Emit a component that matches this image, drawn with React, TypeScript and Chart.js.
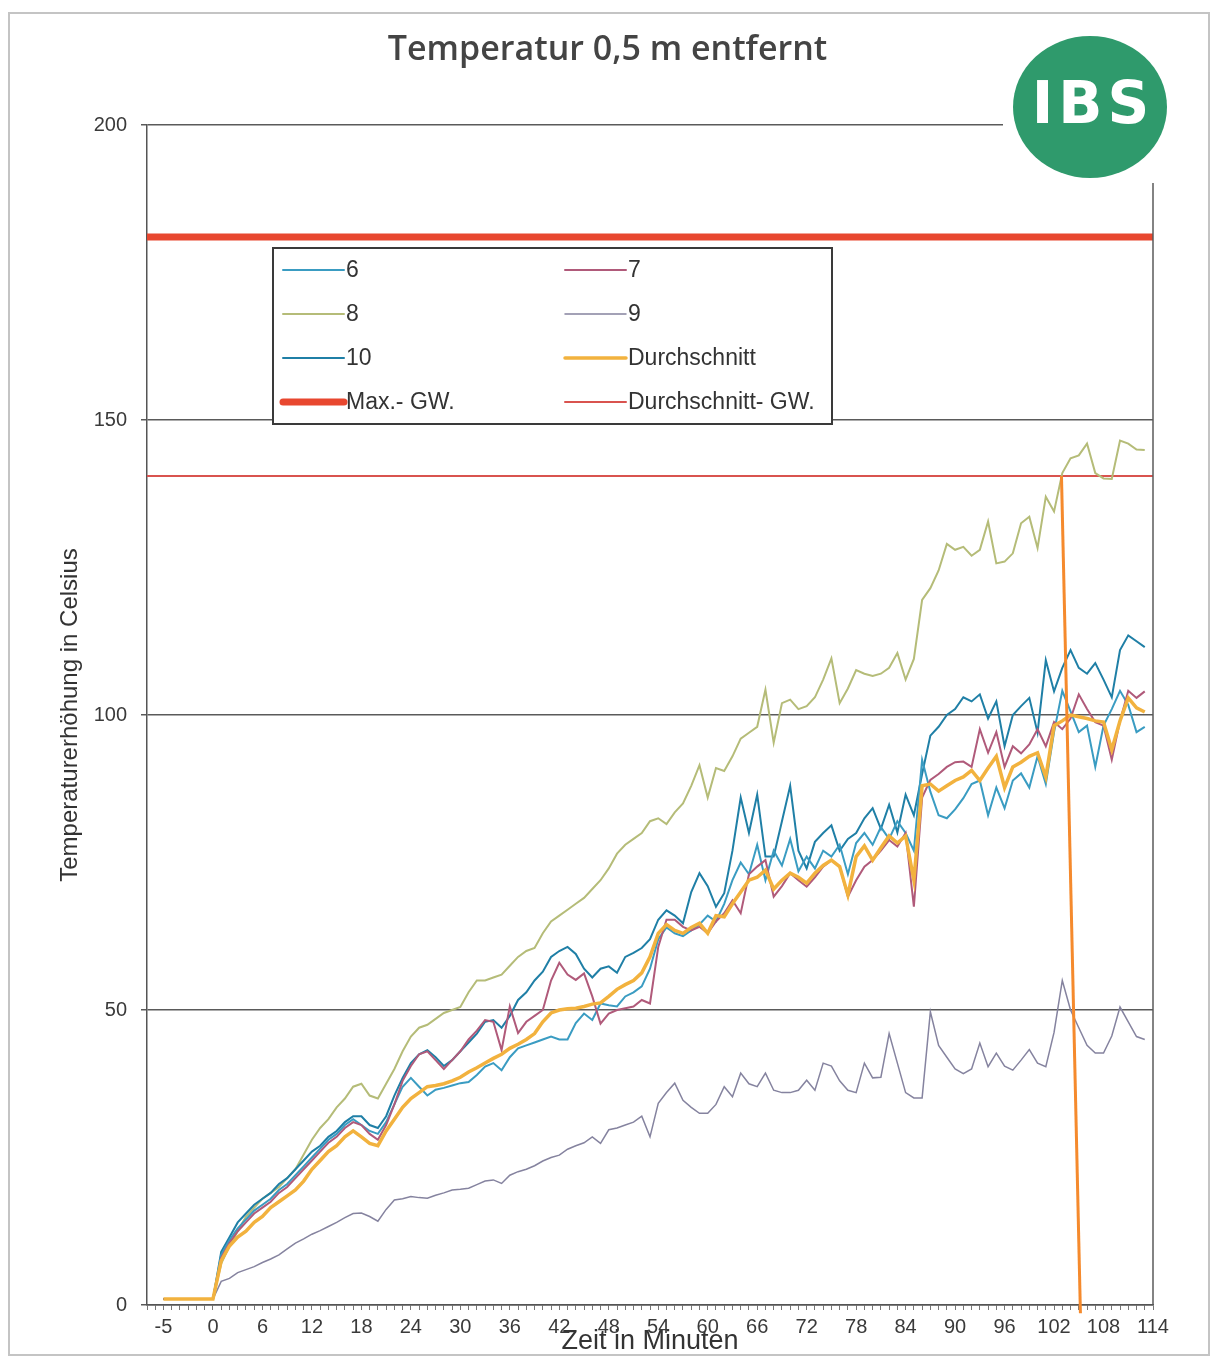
import React, { useEffect, useRef } from 'react';
import { Chart, registerables } from 'chart.js';

Chart.register(...registerables);

// x positions (minutes); the first point sits at the "-5" category position
const minutes = [
  -6,
  0, 1, 2, 3, 4, 5, 6, 7, 8, 9,
  10, 11, 12, 13, 14, 15, 16, 17, 18, 19,
  20, 21, 22, 23, 24, 25, 26, 27, 28, 29,
  30, 31, 32, 33, 34, 35, 36, 37, 38, 39,
  40, 41, 42, 43, 44, 45, 46, 47, 48, 49,
  50, 51, 52, 53, 54, 55, 56, 57, 58, 59,
  60, 61, 62, 63, 64, 65, 66, 67, 68, 69,
  70, 71, 72, 73, 74, 75, 76, 77, 78, 79,
  80, 81, 82, 83, 84, 85, 86, 87, 88, 89,
  90, 91, 92, 93, 94, 95, 96, 97, 98, 99,
  100, 101, 102, 103, 104, 105, 106, 107, 108, 109,
  110, 111, 112, 113,
];

const series6 = [
  1,
  1, 8.5, 11, 13, 14.5, 16, 17, 18, 19.5, 20.5,
  22, 23.5, 25, 26.5, 28, 29, 30.5, 31.5, 30.5, 29.5,
  29, 31, 34, 37, 38.5, 37, 35.5, 36.5, 36.8, 37.2,
  37.6, 37.8, 39, 40.4, 41, 39.8, 42, 43.5, 44, 44.5,
  45, 45.5, 45, 45, 47.8, 49.4, 48.3, 51.1, 50.8, 50.6,
  52.3, 53, 54, 57, 62, 64, 63, 62.5, 63.5, 64.5,
  66, 65, 68, 72, 75, 73, 78, 72, 77, 74.5,
  79, 73.5, 76, 74, 77, 76, 78, 73, 78.3, 80,
  78, 81, 79, 82, 80, 77, 92.4, 87, 83, 82.5,
  84, 85.9, 88.3, 88.9, 83, 87.7, 84.2, 88.9, 90.1, 87.7,
  93, 88.3, 97.1, 104.1, 100.6, 97.1, 98.2, 91.2, 98.2, 101,
  104.1, 101.7, 97.1, 98,
];

const series7 = [
  1,
  1, 8, 10.5, 12.5, 14, 15.5, 16.5, 17.5, 19, 20,
  21.5, 23, 24.5, 26, 27.5, 28.5, 30, 31, 30.5, 29,
  28, 30.5, 34, 38, 40.5, 42.5, 43, 41.5, 40, 41.5,
  43, 45, 46.5, 48.3, 48, 43.2, 50.6, 46.1, 48, 49,
  50, 55, 58, 56, 55.1, 56.2, 52.3, 47.7, 49.4, 50,
  50.3, 50.6, 51.7, 51.1, 60.7, 65.3, 65.3, 64.1, 63.5, 64.1,
  63, 65, 66.4, 68.6, 66.4, 73, 74.3, 75.4, 69.2, 71,
  73.2, 72, 70.9, 72.5, 74.3, 75.4, 74.3, 69.2, 72, 74.3,
  75.4, 77, 78.8, 77.7, 80, 67.5, 86, 89, 90, 91.2,
  92, 92.1, 91.2, 97.6, 93.6, 97.1, 91.2, 94.7, 93.5, 95,
  97.6, 94.7, 98.8, 97.6, 99.4, 103.5, 101, 98.8, 98.2, 92.4,
  99, 104.1, 102.9, 104,
];

const series8 = [
  1,
  1, 7, 10, 12.5, 15, 16.5, 18, 19, 20, 21.5,
  23, 25.5, 28, 30, 31.5, 33.5, 35, 37, 37.5, 35.5,
  35, 37.5, 40, 43, 45.5, 47, 47.5, 48.5, 49.5, 50,
  50.5, 53, 55, 55, 55.5, 56, 57.5, 59, 60, 60.5,
  63, 65, 66, 67, 68, 69, 70.5, 72, 74, 76.5,
  78, 79, 80, 82, 82.5, 81.5, 83.5, 85, 88, 91.5,
  86, 91, 90.5, 93, 96, 97, 98, 104.3, 95.3, 102,
  102.6, 101, 101.5, 103, 106, 109.6, 102, 104.5, 107.6, 107,
  106.6, 107, 108, 110.5, 106, 109.5, 119.5, 121.5, 124.5, 129,
  128, 128.5, 127, 128, 132.8, 125.7, 126, 127.4, 132.5, 133.6,
  128.3, 137, 134.5, 141, 143.5, 144, 146, 141, 140.1, 140,
  146.5, 146, 145, 144.9,
];

const series9 = [
  1,
  1, 4, 4.5, 5.5, 6, 6.5, 7.2, 7.8, 8.5, 9.5,
  10.5, 11.2, 12, 12.6, 13.3, 14, 14.8, 15.5, 15.6, 15,
  14.2, 16.2, 17.8, 18, 18.4, 18.2, 18.1, 18.6, 19, 19.5,
  19.6, 19.8, 20.4, 21, 21.2, 20.6, 22, 22.6, 23, 23.6,
  24.4, 25, 25.4, 26.4, 27, 27.5, 28.5, 27.4, 29.7, 30,
  30.5, 31, 32, 28.5, 34.2, 36, 37.6, 34.7, 33.5, 32.5,
  32.5, 34, 37, 35.3, 39.3, 37.5, 37, 39.3, 36.4, 36,
  36, 36.4, 38.1, 36.4, 41, 40.5, 38, 36.4, 36, 41,
  38.5, 38.6, 46, 41, 36, 35.1, 35.1, 49.7, 44, 42,
  40, 39.2, 40, 44.4, 40.4, 42.7, 40.5, 39.8, 41.5, 43.3,
  41, 40.4, 46.2, 55, 50, 47, 44, 42.7, 42.7, 45.6,
  50.5, 48, 45.5, 45,
];

const series10 = [
  1,
  1, 9, 11.5, 14, 15.5, 17, 18, 19, 20.5, 21.5,
  23, 24.5, 26, 27, 28.5, 29.5, 31, 32, 32, 30.5,
  30, 32, 35.5, 38.5, 41, 42.5, 43.2, 42, 40.5, 41.5,
  43, 44.5, 46, 48, 48.3, 47, 49, 51.7, 53, 55,
  56.5, 59, 60, 60.7, 59.5, 57, 55.5, 57, 57.4, 56.3,
  59, 59.7, 60.5, 62, 65.3, 66.9, 66, 64.7, 70, 73.2,
  71, 67.5, 69.8, 77, 86, 80, 86.5, 76, 76, 82,
  88, 77, 74, 78.5, 80, 81.3, 77, 79, 80, 82.5,
  84.2, 80.7, 84.8, 80.1, 86.5, 83, 90, 96.5, 98, 100,
  101, 103, 102.3, 103.5, 99.4, 102.3, 94.7, 100, 101.5, 102.9,
  97, 109.3, 104, 108, 111, 108, 107, 108.8, 106, 103,
  111, 113.5, 112.5, 111.5,
];

const seriesAvg = [
  1,
  1, 7.5, 10, 11.5, 12.5, 14, 15, 16.5, 17.5, 18.5,
  19.5, 21, 23, 24.5, 26, 27, 28.5, 29.5, 28.5, 27.4,
  27, 29.5, 31.5, 33.5, 35, 36, 37, 37.2, 37.5, 38,
  38.6, 39.5, 40.2, 41, 41.8, 42.5, 43.5, 44.2, 45, 46,
  48, 49.5, 50, 50.2, 50.3, 50.6, 51, 51.2, 52.3, 53.5,
  54.3, 55, 56.3, 59, 63, 64.5, 63.5, 63, 64, 64.7,
  63, 66, 65.8, 68, 70, 72, 72.5, 73.7, 70.5, 72,
  73.2, 72.5, 71.5, 73.2, 74.5, 75.4, 74.3, 69.5, 76, 77.8,
  75.4, 77.5, 79.5, 78.3, 79.5, 72, 88, 88.3, 87.1, 88,
  88.9, 89.5, 90.6, 88.9, 91, 93, 87.7, 91.2, 92, 93,
  93.6, 89.5, 98.2, 99, 100, 99.7, 99.4, 99, 98.8, 94.1,
  99, 102.9, 101.2, 100.5,
];

// limit lines (Grenzwerte) span the whole axis
const limitX = [-8, 114];
const maxGW = [181, 181];
const avgGW = [140.5, 140.5];

// hand-drawn orange marker line
const markerX = [102.9, 105.2];
const markerY = [140.5, -1.4];

const xTickPositions = [-6, 0, 6, 12, 18, 24, 30, 36, 42, 48, 54, 60, 66, 72, 78, 84, 90, 96, 102, 108, 114];
const xTickLabels = ['-5', '0', '6', '12', '18', '24', '30', '36', '42', '48', '54', '60', '66', '72', '78', '84', '90', '96', '102', '108', '114'];
const yTickValues = [0, 50, 100, 150, 200];

const FONT = '"Liberation Sans", Arial, sans-serif';

const decorPlugin = {
  id: 'decor',
  afterDraw(chart: any) {
    const { ctx, chartArea: ca } = chart;
    ctx.save();
    // right border of plot
    ctx.strokeStyle = '#5a5a5a';
    ctx.lineWidth = 1.5;
    ctx.beginPath();
    ctx.moveTo(ca.right, ca.top);
    ctx.lineTo(ca.right, ca.bottom);
    ctx.stroke();

    // legend box
    const bx = ca.left + 126;
    const by = ca.top + 123;
    const bw = 559;
    const bh = 176;
    ctx.fillStyle = '#ffffff';
    ctx.fillRect(bx, by, bw, bh);
    ctx.strokeStyle = '#3a3a3a';
    ctx.lineWidth = 2;
    ctx.strokeRect(bx, by, bw, bh);
    const items = chart.data.datasets.filter((d: any) => !d.isMarker);
    items.forEach((d: any, i: number) => {
      const col = i % 2;
      const row = Math.floor(i / 2);
      const lx = bx + (col === 0 ? 10 : 292);
      const ly = by + 22 + row * 44;
      ctx.strokeStyle = d.borderColor;
      ctx.lineWidth = d.borderWidth;
      ctx.lineCap = 'round';
      ctx.beginPath();
      ctx.moveTo(lx, ly);
      ctx.lineTo(lx + 61, ly);
      ctx.stroke();
      ctx.fillStyle = '#333333';
      ctx.font = `23px ${FONT}`;
      ctx.textAlign = 'left';
      ctx.textBaseline = 'middle';
      ctx.fillText(d.label, lx + 63, ly + 1);
    });

    // logo
    ctx.fillStyle = '#ffffff';
    ctx.fillRect(1003, 26, 176, 157);
    ctx.fillStyle = '#2f9a6c';
    ctx.beginPath();
    ctx.ellipse(1090, 107, 77, 71, 0, 0, Math.PI * 2);
    ctx.fill();
    ctx.fillStyle = '#ffffff';
    ctx.font = 'bold 58px "DejaVu Sans", sans-serif';
    try {
      (ctx as any).letterSpacing = '5px';
    } catch (e) {
      /* ignore */
    }
    ctx.textAlign = 'center';
    ctx.textBaseline = 'middle';
    ctx.fillText('IBS', 1093, 108);
    try {
      (ctx as any).letterSpacing = '0px';
    } catch (e) {
      /* ignore */
    }

    // scanned page frame
    ctx.strokeStyle = '#c4c4c4';
    ctx.lineWidth = 2;
    ctx.strokeRect(9, 13, 1200, 1342);
    ctx.restore();
  },
};

export default function App() {
  const ref = useRef<HTMLCanvasElement>(null);

  useEffect(() => {
    const toPts = (ys: number[]) => minutes.map((x, i) => ({ x, y: ys[i] }));
    const pair = (xs: number[], ys: number[]) => xs.map((x, i) => ({ x, y: ys[i] }));
    const line = { pointRadius: 0, tension: 0, fill: false };

    const chart = new Chart(ref.current as HTMLCanvasElement, {
      type: 'line',
      data: {
        datasets: [
          { ...line, label: '6', data: toPts(series6), borderColor: '#3a9cc2', borderWidth: 2, order: 4 },
          { ...line, label: '7', data: toPts(series7), borderColor: '#b05a7a', borderWidth: 2, order: 3 },
          { ...line, label: '8', data: toPts(series8), borderColor: '#b5bc78', borderWidth: 2, order: 6 },
          { ...line, label: '9', data: toPts(series9), borderColor: '#85839f', borderWidth: 1.5, order: 7 },
          { ...line, label: '10', data: toPts(series10), borderColor: '#1f7fa6', borderWidth: 2, order: 5 },
          { ...line, label: 'Durchschnitt', data: toPts(seriesAvg), borderColor: '#f2b23e', borderWidth: 3.5, order: 2 },
          { ...line, label: 'Max.- GW.', data: pair(limitX, maxGW), borderColor: '#e8472f', borderWidth: 7, order: 8 },
          { ...line, label: 'Durchschnitt- GW.', data: pair(limitX, avgGW), borderColor: '#d9534f', borderWidth: 2, order: 8 },
          { ...line, label: 'marker', isMarker: true, data: pair(markerX, markerY), borderColor: '#f58a2d', borderWidth: 3, order: 0, clip: false },
        ] as any,
      },
      options: {
        responsive: false,
        animation: false,
        devicePixelRatio: 1,
        layout: { padding: { left: 0, right: 0, top: 0, bottom: 0 } },
        plugins: {
          legend: { display: false },
          tooltip: { enabled: false },
          title: {
            display: true,
            text: 'Temperatur 0,5 m entfernt',
            color: '#444444',
            font: { family: '"Open Sans", sans-serif', size: 34, weight: '600' as any, lineHeight: 1.2 },
            padding: { top: 30, bottom: 54.2 },
          },
        },
        scales: {
          x: {
            type: 'linear',
            min: -8,
            max: 114,
            afterBuildTicks: (s: any) => {
              const t = [];
              for (let v = -8; v <= 114; v++) t.push({ value: v });
              s.ticks = t;
            },
            afterFit: (s: any) => {
              s.height = 53;
            },
            ticks: {
              autoSkip: false,
              maxRotation: 0,
              minRotation: 0,
              padding: 5,
              color: '#3a3a3a',
              font: { family: FONT, size: 20 },
              callback: (v: any) => {
                const i = xTickPositions.indexOf(Number(v));
                return i >= 0 ? xTickLabels[i] : '';
              },
            },
            grid: { drawOnChartArea: false, drawTicks: true, tickLength: 5, color: '#777777', lineWidth: 1 },
            border: { display: true, color: '#555555', width: 1.5 },
            title: {
              display: true,
              text: 'Zeit in Minuten',
              color: '#333333',
              font: { family: FONT, size: 27, lineHeight: 1.2 },
              padding: { top: 0, bottom: 0 },
            },
          },
          y: {
            min: 0,
            max: 200,
            afterBuildTicks: (s: any) => {
              s.ticks = yTickValues.map((v) => ({ value: v }));
            },
            afterFit: (s: any) => {
              s.width = 147;
            },
            ticks: {
              padding: 14,
              color: '#3a3a3a',
              font: { family: FONT, size: 20 },
            },
            grid: { color: '#5a5a5a', lineWidth: 1.5, tickLength: 6, drawTicks: true },
            border: { display: true, color: '#555555', width: 1.5 },
            title: {
              display: true,
              text: 'Temperaturerhöhung in Celsius',
              color: '#333333',
              font: { family: FONT, size: 24, lineHeight: 1.2 },
              padding: { top: 56, bottom: 0 },
            },
          },
          yRight: {
            position: 'right',
            display: true,
            min: 0,
            max: 200,
            afterFit: (s: any) => {
              s.width = 62;
            },
            ticks: { display: false },
            grid: { display: false, drawOnChartArea: false, drawTicks: false },
            border: { display: false },
          },
        },
      } as any,
      plugins: [decorPlugin],
    });
    return () => chart.destroy();
  }, []);

  return (
    <div style={{ position: 'absolute', left: 0, top: 0, width: 1215, height: 1358, background: '#ffffff' }}>
      <canvas ref={ref} width={1215} height={1358} style={{ display: 'block' }} />
    </div>
  );
}
